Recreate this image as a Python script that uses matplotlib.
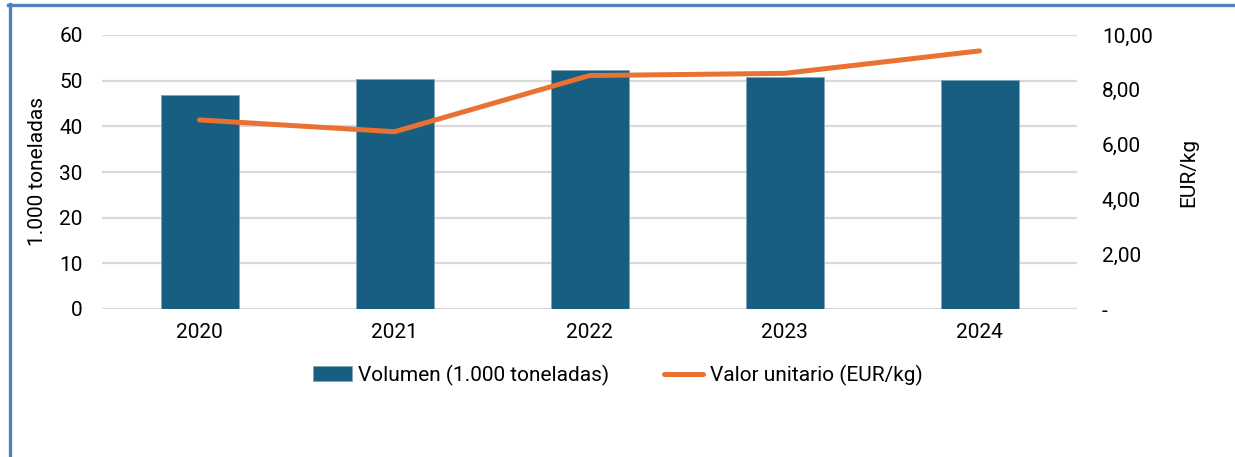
import matplotlib.pyplot as plt
from matplotlib.lines import Line2D
from matplotlib.ticker import FuncFormatter

plt.rcParams['font.family'] = ['Roboto', 'DejaVu Sans']

years = ["2020", "2021", "2022", "2023", "2024"]
volumen = [46.9, 50.4, 52.4, 50.8, 50.1]          # 1.000 toneladas
valor_unitario = [6.90, 6.47, 8.52, 8.60, 9.42]   # EUR/kg

bar_color = "#175e80"
line_color = "#e97132"
grid_color = "#d9d9d9"

fig = plt.figure(figsize=(12.35, 4.57), dpi=100)
ax = fig.add_axes([102 / 1235, 1 - 309 / 457, 975 / 1235, 274 / 457])
ax2 = ax.twinx()

x = range(len(years))
bars = ax.bar(x, volumen, width=0.4, color=bar_color, edgecolor="#7fa6bc",
              linewidth=0.6, zorder=2, label="Volumen (1.000 toneladas)")
ax.set_xlim(-0.5, len(years) - 0.5)
ax.set_ylim(0, 60)
ax.set_yticks(range(0, 61, 10))
ax.set_xticks(list(x))
ax.set_xticklabels(years)
ax.yaxis.grid(True, color=grid_color, linewidth=1.6, zorder=0)
ax.set_axisbelow(True)
ax.set_ylabel("1.000 toneladas", fontsize=15)
ax.yaxis.set_label_coords((47 - 102) / 975, 0.5)

ax2.plot(list(x), valor_unitario, color=line_color, linewidth=3.6,
         solid_capstyle="round", solid_joinstyle="round", zorder=3)
ax2.set_ylim(0, 10)
ax2.set_yticks(range(0, 11, 2))
ax2.yaxis.set_major_formatter(FuncFormatter(
    lambda v, p: "-" if v == 0 else f"{v:.2f}".replace(".", ",")))
ax2.set_ylabel("EUR/kg", fontsize=15, rotation=90)
ax2.yaxis.set_label_coords((1179 - 102) / 975, 0.5)

for a in (ax, ax2):
    for s in a.spines.values():
        s.set_visible(False)
    a.tick_params(length=0, labelsize=15, colors="#000000")
ax.tick_params(axis="y", pad=14)
ax.tick_params(axis="x", pad=10)
ax2.tick_params(axis="y", pad=18)

handles = [bars, Line2D([0], [0], color=line_color, linewidth=3.6, solid_capstyle="round")]
labels = ["Volumen (1.000 toneladas)", "Valor unitario (EUR/kg)"]
fig.legend(handles, labels, loc="center", bbox_to_anchor=(0.5, 1 - 375 / 457),
           ncol=2, frameon=False, fontsize=15, handlelength=1.9, handletextpad=0.3,
           columnspacing=2.6)

# frame lines on the left and top edges
fig.add_artist(Line2D([9.5 / 1235, 9.5 / 1235], [0, 1 - 4 / 457], color="#4f81bd",
                      linewidth=2.4, transform=fig.transFigure))
fig.add_artist(Line2D([8 / 1235, 1], [1 - 5 / 457, 1 - 5 / 457], color="#4f81bd",
                      linewidth=2.4, transform=fig.transFigure))

fig.savefig("out.png", dpi=100)
